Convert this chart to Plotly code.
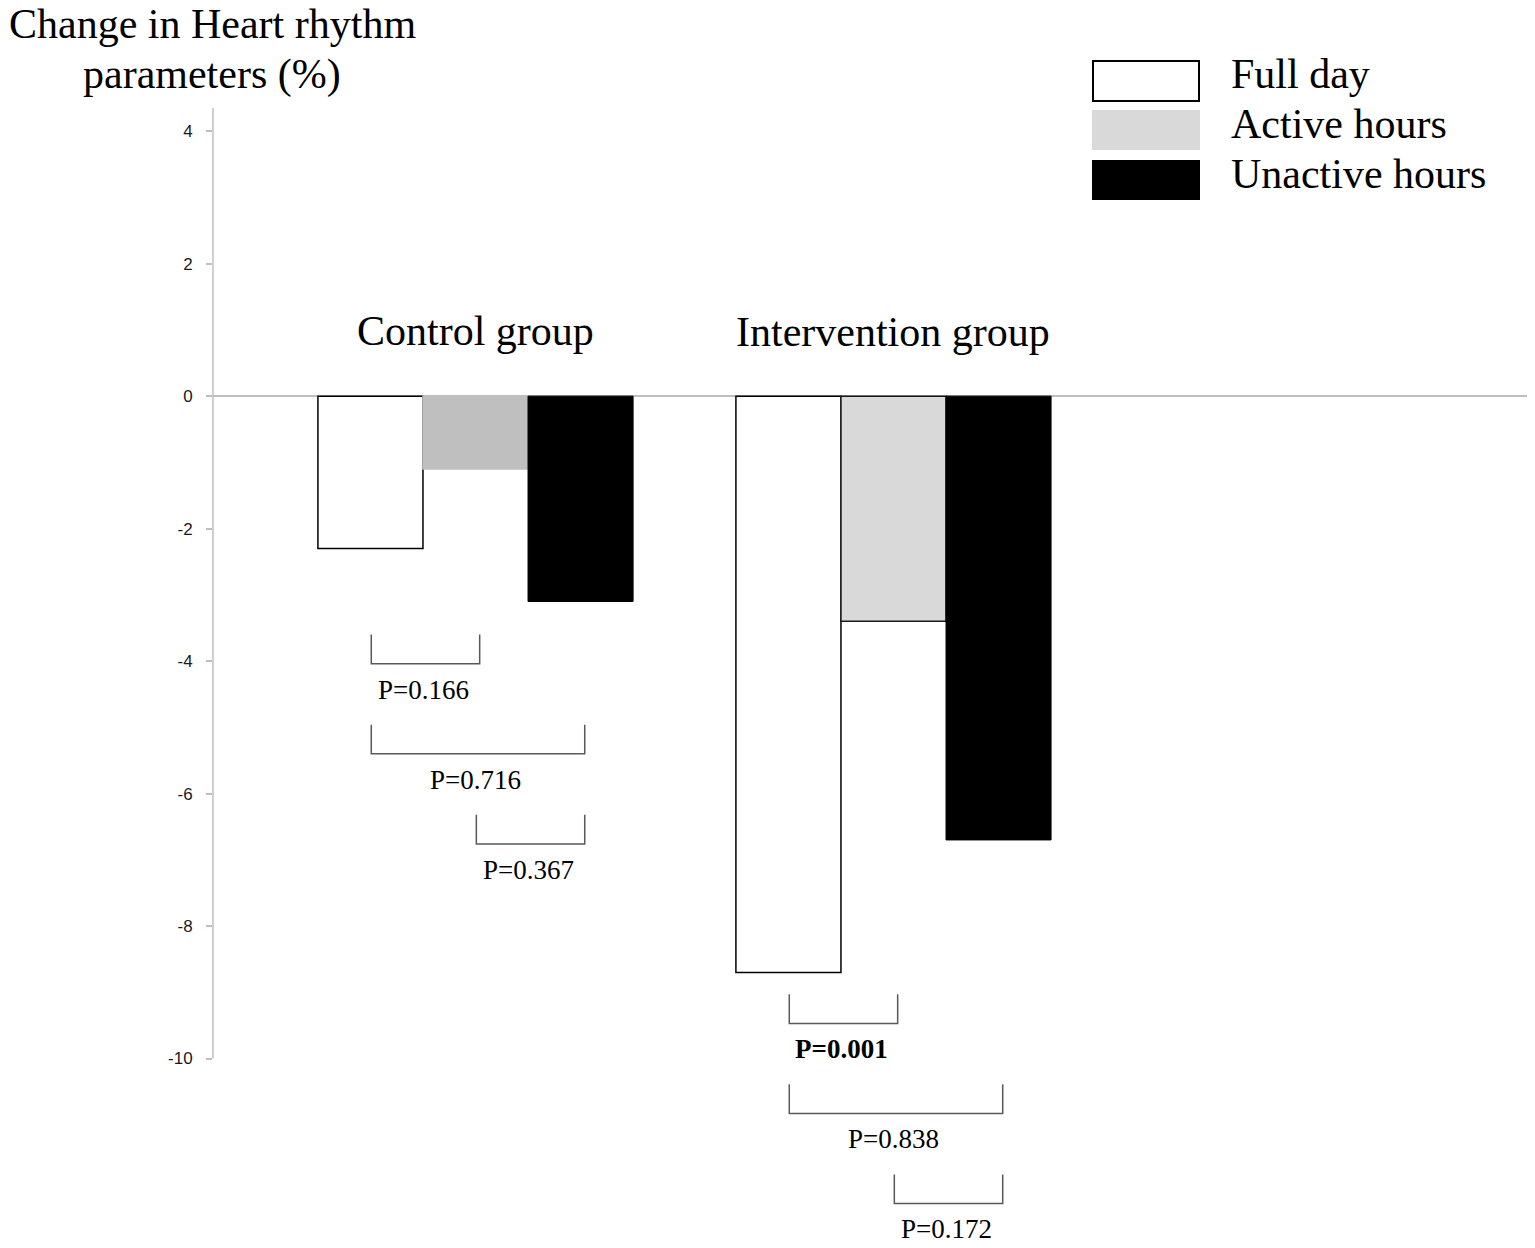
import plotly.graph_objects as go

# values (change in %)
groups = ["Control group", "Intervention group"]
series = ["Full day", "Active hours", "Unactive hours"]
full_day = [-2.3, -8.7]
active_hours = [-1.1, -3.4]
unactive_hours = [-3.1, -6.7]

# pairwise comparisons inside each group: (left bar, right bar)
pairs = [(0, 1), (0, 2), (1, 2)]
p_control = ["P=0.166", "P=0.716", "P=0.367"]
p_intervention = ["<b>P=0.001</b>", "P=0.838", "P=0.172"]

y_ticks = [4, 2, 0, -2, -4, -6, -8, -10]

# the page body adds an 8px margin, so the figure is a bit smaller
OFF = 8
W, H = 1535 - OFF, 1248 - OFF
ML, MR, MT, MB = 213 - OFF, 7, 108 - OFF, 4
SERIF = "Liberation Serif, Times New Roman, serif"
SANS = "Liberation Sans, Arial, sans-serif"


def px_x(px):
    # screen pixel -> paper x
    return (px - OFF - ML) / (W - ML - MR)


def px_y(py):
    # screen pixel -> paper y
    return (H - MB - (py - OFF)) / (H - MT - MB)


xpos = list(range(len(groups)))

fig = go.Figure()
fig.add_trace(go.Bar(
    x=xpos, y=full_day, name=series[0],
    marker=dict(color="white", line=dict(color="black", width=1.5)),
))
fig.add_trace(go.Bar(
    x=xpos, y=active_hours, name=series[1],
    marker=dict(color=["#bfbfbf", "#d9d9d9"],
                line=dict(color=["#bfbfbf", "#1a1a1a"], width=1.5)),
))
fig.add_trace(go.Bar(
    x=xpos, y=unactive_hours, name=series[2],
    marker=dict(color="black", line=dict(color="black", width=1)),
))

bargap = 0.246
bar_w = (1 - bargap) / 3
offsets = [-bar_w, 0, bar_w]

shapes = []
annotations = []

# y axis line only runs from -10 up to the top
shapes.append(dict(type="line", xref="paper", yref="y", x0=0, x1=0,
                   y0=-10, y1=4.35, line=dict(color="#bfbfbf", width=1.5)))

# group labels
label_y = [0.98, 0.97]
for g, name in enumerate(groups):
    annotations.append(dict(x=g, y=label_y[g], xref="x", yref="y", text=name,
                            showarrow=False, xanchor="center", yanchor="middle",
                            font=dict(family=SERIF, size=42, color="black")))

# significance brackets
bracket_top = [-3.6, -9.03]
step, depth, text_gap = 1.36, 0.44, 0.83
for g, plist in enumerate([p_control, p_intervention]):
    for k, ((a, b), ptxt) in enumerate(zip(pairs, plist)):
        x0 = g + offsets[a] + 0.002
        x1 = g + offsets[b] + 0.01
        top = bracket_top[g] - k * step
        bot = top - depth
        shapes.append(dict(
            type="path", xref="x", yref="y",
            path=f"M {x0},{top} L {x0},{bot} L {x1},{bot} L {x1},{top}",
            line=dict(color="#595959", width=1.5)))
        annotations.append(dict(
            x=(x0 + x1) / 2 - 0.005, y=top - text_gap, xref="x", yref="y",
            text=ptxt, showarrow=False, xanchor="center", yanchor="middle",
            font=dict(family=SERIF, size=27, color="black")))

# axis title in two lines above the axis
for txt, cy in [("Change in Heart rhythm", 24), ("parameters (%)", 75)]:
    annotations.append(dict(x=px_x(212), y=px_y(cy), xref="paper", yref="paper",
                            text=txt, showarrow=False, xanchor="center",
                            yanchor="middle",
                            font=dict(family=SERIF, size=42, color="black")))

# hand-drawn legend with wide swatches
legend_fill = ["white", "#d9d9d9", "black"]
legend_line = ["black", "#d9d9d9", "black"]
box_rows = [(61, 101), (111, 149), (161, 199)]
text_rows = [74, 124, 174]
for i, name in enumerate(series):
    y0, y1 = box_rows[i]
    shapes.append(dict(type="rect", xref="paper", yref="paper",
                       x0=px_x(1093), x1=px_x(1199), y0=px_y(y1), y1=px_y(y0),
                       fillcolor=legend_fill[i],
                       line=dict(color=legend_line[i], width=2)))
    annotations.append(dict(x=px_x(1229), y=px_y(text_rows[i]), xref="paper",
                            yref="paper", text=name, showarrow=False,
                            xanchor="left", yanchor="middle",
                            font=dict(family=SERIF, size=42, color="black")))

fig.update_layout(
    width=W, height=H,
    margin=dict(l=ML, r=MR, t=MT, b=MB),
    paper_bgcolor="white", plot_bgcolor="white",
    barmode="group", bargap=bargap, bargroupgap=0,
    showlegend=False,
    shapes=shapes, annotations=annotations,
    xaxis=dict(visible=False, range=[-0.628, 2.518]),
    yaxis=dict(range=[-12.8, 4.35], tickvals=y_ticks,
               ticktext=[str(v) for v in y_ticks],
               ticks="outside", ticklen=6, tickcolor="#bfbfbf", tickwidth=1.5,
               ticklabelstandoff=10,
               tickfont=dict(family=SANS, size=17, color="#1a1a1a"),
               showgrid=False, showline=False,
               zeroline=True, zerolinecolor="#bfbfbf", zerolinewidth=1.5),
)

fig.write_html("out.html")
